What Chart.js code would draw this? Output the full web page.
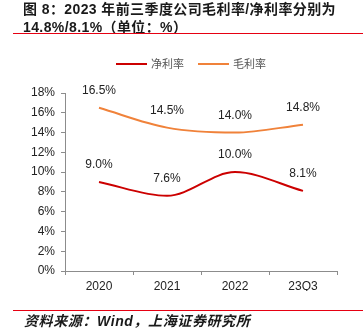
<!DOCTYPE html>
<html>
<head>
<meta charset="utf-8">
<script src="https://cdn.jsdelivr.net/npm/chart.js@4/dist/chart.umd.min.js"></script>
<style>
  html, body { margin: 0; padding: 0; background: #fff; }
  #wrap { position: relative; width: 363px; height: 329px; overflow: hidden; }
  #chart { position: absolute; left: 0; top: 0; }
  .title { position: absolute; left: 23px; font: bold 14px "Liberation Sans", "Noto Sans CJK SC", sans-serif; color: #1a1a1a; white-space: nowrap; letter-spacing: 0.4px; }
  .rule { position: absolute; left: 13px; width: 350px; height: 1px; background: #e60012; }
  .source { position: absolute; left: 24px; top: 310px; font: italic bold 14px "Liberation Sans", "Noto Sans CJK SC", sans-serif; color: #1a1a1a; white-space: nowrap; letter-spacing: 0.6px; }
</style>
</head>
<body>
<div id="wrap">
  <canvas id="chart" width="363" height="329"></canvas>
  <div class="title" style="top:-2px">图 8：2023 年前三季度公司毛利率/净利率分别为</div>
  <div class="title" style="top:16px">14.8%/8.1%（单位：%）</div>
  <div class="rule" style="top:33px"></div>
  <div class="rule" style="top:310px"></div>
  <div class="source">资料来源：Wind，上海证券研究所</div>
</div>
<script>
// Periods on the x axis
const categories = ['2020', '2021', '2022', '23Q3'];
// Net margin (%)
const netMargin = [9.0, 7.6, 10.0, 8.1];
// Gross margin (%)
const grossMargin = [16.5, 14.5, 14.0, 14.8];
// Series names
const seriesNames = ['净利率', '毛利率'];
// Y axis range and step (%)
const yTicks = { min: 0, max: 18, step: 2 };

const colors = ['#CC0000', '#F0823A'];
const labelFont = '12px "Liberation Sans", Arial, sans-serif';

// Writes each point's value just above it
const valueLabels = {
  id: 'valueLabels',
  afterDatasetsDraw(chart) {
    const ctx = chart.ctx;
    ctx.save();
    ctx.font = labelFont;
    ctx.fillStyle = '#222';
    ctx.textAlign = 'center';
    ctx.textBaseline = 'middle';
    chart.data.datasets.forEach((ds, i) => {
      chart.getDatasetMeta(i).data.forEach((pt, j) => {
        ctx.fillText(ds.data[j].toFixed(1) + '%', pt.x, pt.y - 17);
      });
    });
    ctx.restore();
  }
};

// Legend row: short line sample followed by the series name
const lineLegend = {
  id: 'lineLegend',
  afterDraw(chart) {
    const ctx = chart.ctx;
    ctx.save();
    ctx.font = '11px "Noto Sans CJK SC", sans-serif';
    ctx.textBaseline = 'middle';
    let x = 116;
    const y = 64;
    chart.data.datasets.forEach(ds => {
      ctx.strokeStyle = ds.borderColor;
      ctx.lineWidth = 2;
      ctx.beginPath();
      ctx.moveTo(x, y);
      ctx.lineTo(x + 31, y);
      ctx.stroke();
      ctx.fillStyle = '#555';
      ctx.fillText(ds.label, x + 35, y);
      x += 35 + ctx.measureText(ds.label).width + 14;
    });
    ctx.restore();
  }
};

new Chart(document.getElementById('chart'), {
  type: 'line',
  data: {
    labels: categories,
    datasets: [
      { label: seriesNames[0], data: netMargin, borderColor: colors[0], backgroundColor: colors[0] },
      { label: seriesNames[1], data: grossMargin, borderColor: colors[1], backgroundColor: colors[1] }
    ]
  },
  options: {
    responsive: false,
    animation: false,
    devicePixelRatio: 1,
    layout: { padding: { left: 0, right: 26, top: 93, bottom: 38 } },
    elements: {
      line: { borderWidth: 2, cubicInterpolationMode: 'monotone', fill: false },
      point: { radius: 0, hoverRadius: 0 }
    },
    plugins: { legend: { display: false }, tooltip: { enabled: false } },
    scales: {
      x: {
        offset: true,
        grid: { offset: true, drawOnChartArea: false, drawTicks: true, tickLength: 4, color: '#8c8c8c' },
        border: { display: true, color: '#8c8c8c', width: 1 },
        ticks: { color: '#222', font: { family: '"Liberation Sans", Arial, sans-serif', size: 12 }, padding: 4, maxRotation: 0 },
        afterFit(scale) { scale.height = 20; }
      },
      y: {
        min: yTicks.min,
        max: yTicks.max,
        grid: { drawOnChartArea: false, drawTicks: true, tickLength: 4, color: '#8c8c8c' },
        border: { display: true, color: '#8c8c8c', width: 1 },
        ticks: {
          stepSize: yTicks.step,
          color: '#222',
          font: { family: '"Liberation Sans", Arial, sans-serif', size: 12 },
          padding: 6,
          callback: v => v + '%'
        },
        afterFit(scale) { scale.width = 65; }
      }
    }
  },
  plugins: [valueLabels, lineLegend]
});
</script>
</body>
</html>
